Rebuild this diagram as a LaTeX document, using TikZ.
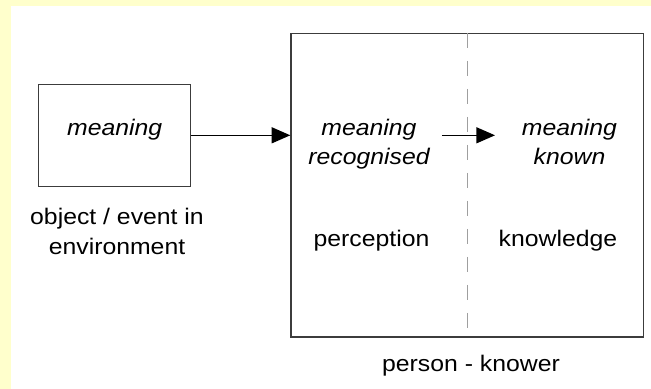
\documentclass[tikz,border=0pt]{standalone}
\usepackage{fontspec}
\setmainfont{Liberation Sans}[FakeStretch=1.1]
\usepackage[usenames,dvipsnames]{xcolor}
\usetikzlibrary{calc,arrows.meta}

\definecolor{paleyellow}{HTML}{FFFFCC}
\definecolor{framegray}{HTML}{3C3C3C}
\newcommand{\diagfont}{\fontsize{16.9}{22}\selectfont}

\begin{document}
\begin{tikzpicture}[x=0.75pt,y=-0.75pt,
  font=\diagfont,
  frame/.style={draw=framegray,line width=1pt,inner sep=0pt},
  arrow/.style={line width=1pt,-{Triangle[length=14pt,width=12pt]}},
  caption/.style={anchor=base,align=center,inner sep=0pt},
  emph/.style={caption,font=\diagfont\itshape}]

% background
\fill[paleyellow] (0,0) rectangle (651,389);
\fill[white] (11,6) rectangle (651,389);

\node[frame,minimum width=114pt,minimum height=76.5pt] (object) at (114.7,135.3) {};
\node[frame,minimum width=264.4pt,minimum height=227.6pt] (knower) at (467.25,185.25) {};
\draw[gray!75,line width=1.1pt,dash pattern=on 11.25pt off 9.75pt] (knower.north) -- (knower.south);

% base of a two-line text is its last line
\node[emph] (meaning) at (114.7,135) {meaning};
\node[emph] (recognised) at (369,164.5) {meaning\\recognised};
\node[emph] (known) at (569.5,164.5) {meaning\\known};

\node[caption] (environment) at (117,254) {object / event in\\environment};
\node[caption] (perception) at (371.5,246.5) {perception};
\node[caption] (knowledge) at (558,246.5) {knowledge};
\node[caption] (person) at (471,371.5) {person - knower};

\draw[arrow] (object.east) -- (object.east -| knower.west);
\draw[arrow,shorten <=9pt,shorten >=20pt] (recognised.east |- object.east) -- (known.west |- object.east);

\end{tikzpicture}
\end{document}
